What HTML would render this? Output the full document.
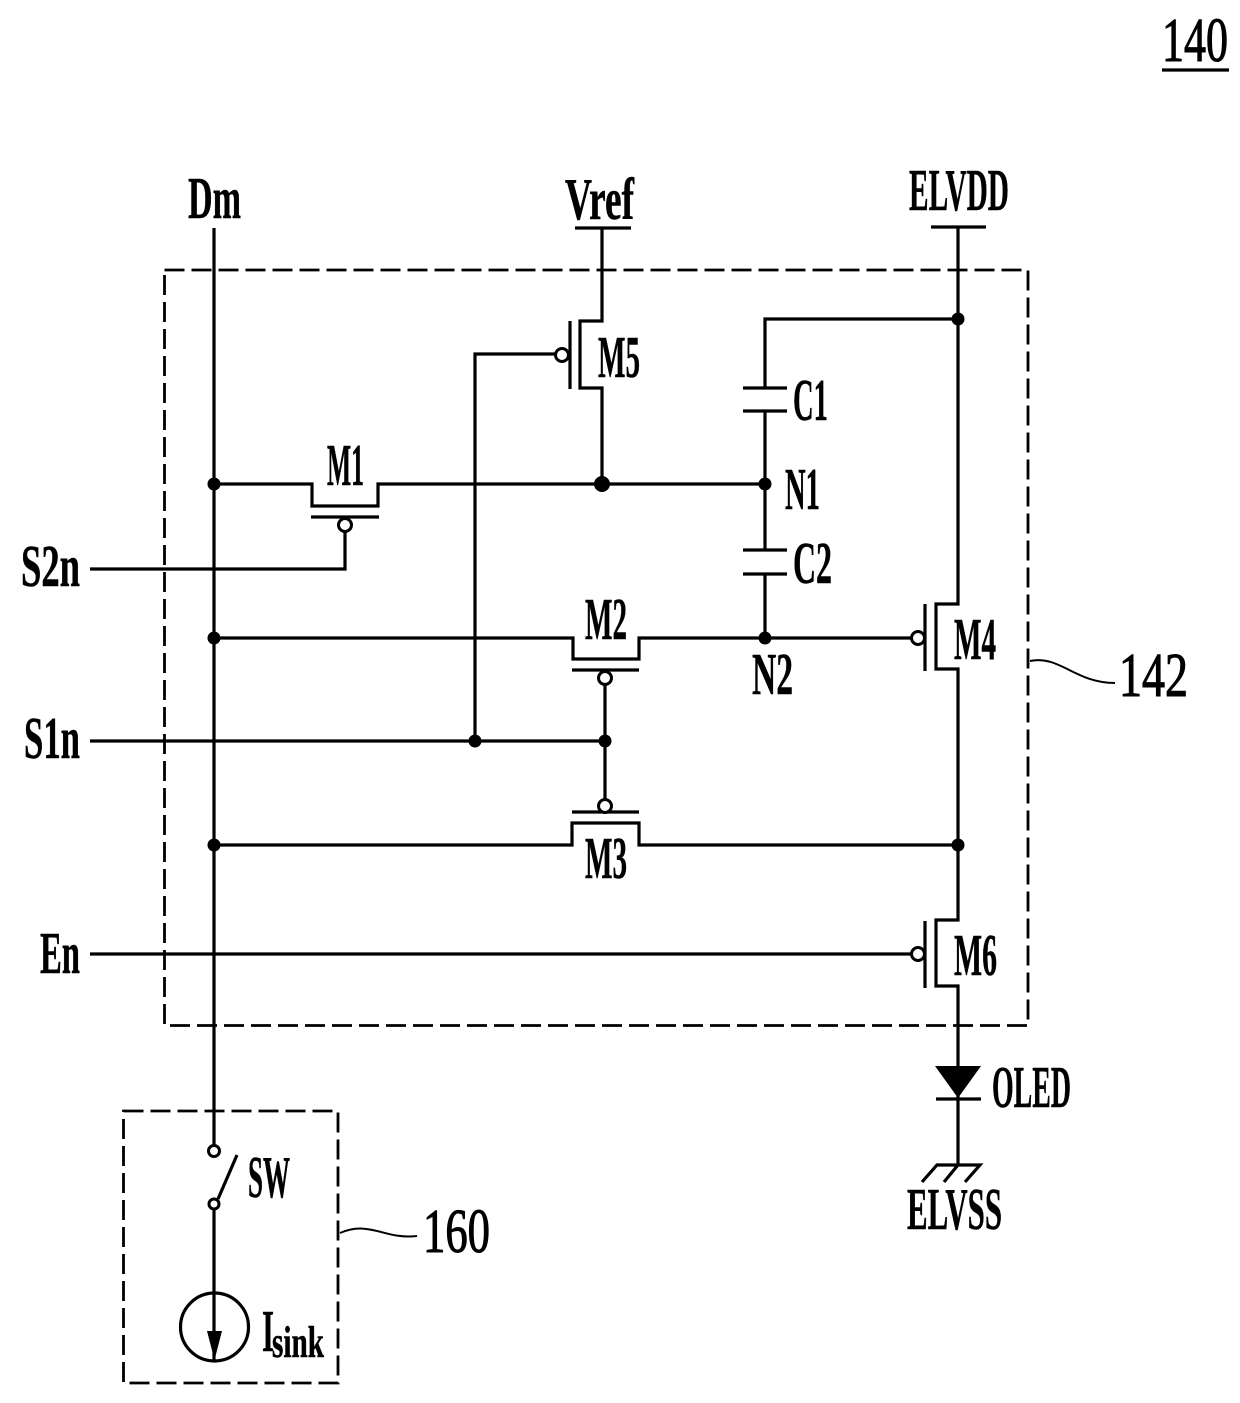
<!DOCTYPE html>
<html><head><meta charset="utf-8"><style>
html,body{margin:0;padding:0;background:#fff}
svg{display:block}
text{font-family:"Liberation Serif",serif;font-weight:bold;fill:#000;stroke:#000;stroke-width:.5}
text.n{font-weight:normal;stroke-width:1.1}
.w{fill:none;stroke:#000;stroke-width:3.2;stroke-linejoin:miter}
.b{fill:#fff;stroke:#000;stroke-width:3}
.d{fill:none;stroke:#000;stroke-width:2.8;stroke-dasharray:20 7}
</style></head><body>
<svg width="1240" height="1403" viewBox="0 0 1240 1403" xmlns="http://www.w3.org/2000/svg">
<rect class="d" x="164.500" y="270" width="863.500" height="755.500"/>
<rect class="d" x="123.500" y="1111" width="214.500" height="272"/>
<path class="w" d="M214 228V1146M214 1209V1360"/>
<path class="w" d="M575 228H631M931 227H986"/>
<path class="w" d="M214 484H312V506H378V484H765"/>
<path class="w" d="M311 517H379"/>
<path class="w" d="M345 531V569H90"/>
<path class="w" d="M602 228V321H580V388H602V484"/>
<path class="w" d="M570 321V389"/>
<path class="w" d="M556 354H475V741"/>
<path class="w" d="M958 228V604H936V669H958V920H936V986H958V1165"/>
<path class="w" d="M925 604V671M925 921V988"/>
<path class="w" d="M765 411V550M765 574V638M765 388V319H958"/>
<path class="w" d="M743 388H787M743 574H787M743 550H787M743 411H787"/>
<path class="w" d="M214 638H573V659H639V638H912"/>
<path class="w" d="M572 670H639"/>
<path class="w" d="M605 684V800"/>
<path class="w" d="M90 741H605"/>
<path class="w" d="M572 812H639"/>
<path class="w" d="M214 845H572V823H639V845H958"/>
<path class="w" d="M90 954H912"/>
<circle class="b" cx="345" cy="525" r="6.500"/>
<circle class="b" cx="562" cy="355" r="6.500"/>
<circle class="b" cx="605" cy="678" r="6.500"/>
<circle class="b" cx="605" cy="806" r="6.500"/>
<circle class="b" cx="918" cy="638" r="6.500"/>
<circle class="b" cx="918" cy="954" r="6.500"/>
<g fill="#000">
<circle cx="214" cy="484" r="6.500"/><circle cx="214" cy="638" r="6.500"/><circle cx="214" cy="845" r="6.500"/>
<circle cx="602" cy="484" r="8"/><circle cx="765" cy="484" r="6.500"/><circle cx="765" cy="638" r="6.500"/>
<circle cx="958" cy="319" r="6.500"/><circle cx="958" cy="845" r="6.500"/>
<circle cx="475" cy="741" r="6.500"/><circle cx="605" cy="741" r="6.500"/>
<path d="M935 1066H981L958 1098Z"/>
<path d="M207 1331H222L214.500 1360Z"/>
</g>
<path class="w" d="M936 1099H981"/>
<path class="w" d="M922 1182L937 1165H980L965 1182M944 1182L958 1165"/>
<circle class="b" cx="214" cy="1151" r="5.500"/>
<circle class="b" cx="214" cy="1204" r="5"/>
<path class="w" d="M218 1199L237 1155"/>
<circle cx="214.500" cy="1327" r="34" fill="none" stroke="#000" stroke-width="3.2"/>
<path d="M1030 661C1060 655 1075 683 1115 683" fill="none" stroke="#000" stroke-width="2"/>
<path d="M340 1233C370 1220 385 1240 417 1236" fill="none" stroke="#000" stroke-width="2"/>
<path class="w" d="M1162 70H1229"/>
<g font-size="59">
<text class="n" x="1162" y="61" font-size="62" textLength="66" lengthAdjust="spacingAndGlyphs">140</text>
<text x="188" y="218" textLength="53" lengthAdjust="spacingAndGlyphs">Dm</text>
<text x="565" y="219" textLength="69" lengthAdjust="spacingAndGlyphs">Vref</text>
<text x="909" y="210" textLength="100" lengthAdjust="spacingAndGlyphs">ELVDD</text>
<text x="598" y="377" textLength="42" lengthAdjust="spacingAndGlyphs">M5</text>
<text x="327" y="485" textLength="37" lengthAdjust="spacingAndGlyphs">M1</text>
<text x="793" y="420" textLength="35" lengthAdjust="spacingAndGlyphs">C1</text>
<text x="785" y="509" textLength="35" lengthAdjust="spacingAndGlyphs">N1</text>
<text x="793" y="583" textLength="39" lengthAdjust="spacingAndGlyphs">C2</text>
<text x="585" y="639" textLength="42" lengthAdjust="spacingAndGlyphs">M2</text>
<text x="752" y="694" textLength="41" lengthAdjust="spacingAndGlyphs">N2</text>
<text x="954" y="659" textLength="42" lengthAdjust="spacingAndGlyphs">M4</text>
<text class="n" x="1119" y="696" font-size="62" textLength="69" lengthAdjust="spacingAndGlyphs">142</text>
<text x="21" y="586" textLength="59" lengthAdjust="spacingAndGlyphs">S2n</text>
<text x="24" y="758" textLength="56" lengthAdjust="spacingAndGlyphs">S1n</text>
<text x="585" y="878" textLength="42" lengthAdjust="spacingAndGlyphs">M3</text>
<text x="954" y="975" textLength="43" lengthAdjust="spacingAndGlyphs">M6</text>
<text x="40" y="973" textLength="40" lengthAdjust="spacingAndGlyphs">En</text>
<text x="992" y="1107" textLength="79" lengthAdjust="spacingAndGlyphs">OLED</text>
<text x="907" y="1229" textLength="95" lengthAdjust="spacingAndGlyphs">ELVSS</text>
<text x="248" y="1197" textLength="42" lengthAdjust="spacingAndGlyphs">SW</text>
<text class="n" x="423" y="1252" font-size="62" textLength="67" lengthAdjust="spacingAndGlyphs">160</text>
<text x="262" y="1351" textLength="12" lengthAdjust="spacingAndGlyphs">I</text>
<text x="272" y="1357" font-size="44" textLength="52" lengthAdjust="spacingAndGlyphs">sink</text>
</g>
</svg>
</body></html>
